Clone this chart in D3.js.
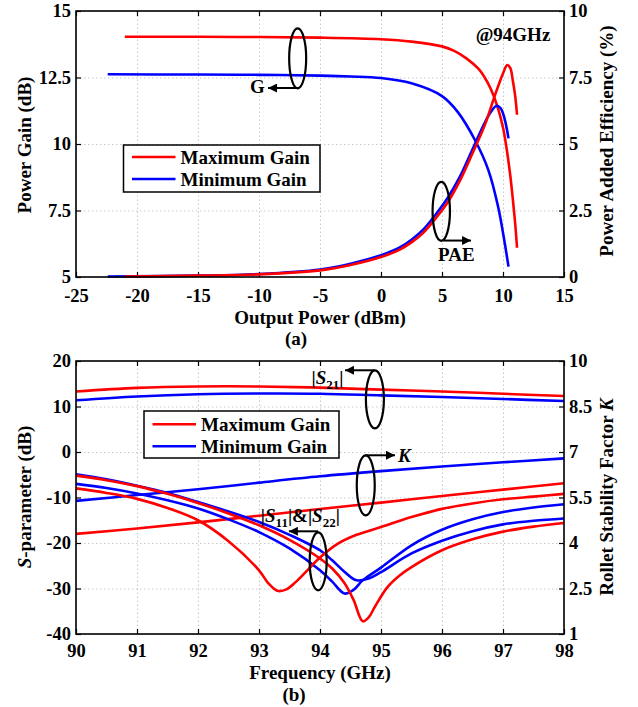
<!DOCTYPE html>
<html><head><meta charset="utf-8">
<script src="https://cdn.jsdelivr.net/npm/d3@7"></script>
<style>
html,body{margin:0;padding:0;background:#fff;}
text{font-family:"Liberation Serif","Times New Roman",serif;font-weight:bold;fill:#000;}
</style></head>
<body><svg id="c" width="638" height="707"></svg>
<script>
// ---------- Panel (a) data ----------
const xTicksA = [-25,-20,-15,-10,-5,0,5,10,15];
const yTicksA = [5,7.5,10,12.5,15];
const yTicksAR = [0,2.5,5,7.5,10];
const gainMaxP = [-21,-15,-10,-5,0,2.5,5,6,7,8,8.5,9,9.5,10,10.3,10.6,10.8,11,11.15];
const gainMaxV = [14.03,14.03,14.02,14.0,13.94,13.85,13.67,13.5,13.22,12.82,12.5,12.07,11.47,10.62,9.82,8.8,7.95,7.0,6.1];
const gainMinP = [-22.4,-15,-10,-5,-2.5,0,2.5,5,6.3,7.7,8.8,9.6,10.1,10.45];
const gainMinV = [12.62,12.61,12.6,12.57,12.54,12.48,12.28,11.8,11.2,10.15,9.02,7.64,6.39,5.39];
const paeMaxP = [-21,-15,-10,-5,-2.5,0,1.5,2.5,3.5,4.5,5.5,6.5,7.5,8.5,9.3,10,10.35,10.6,10.8,11,11.15];
const paeMaxV = [0.02,0.05,0.1,0.25,0.45,0.75,1.02,1.3,1.68,2.22,2.83,3.65,4.65,5.7,6.78,7.65,7.97,7.85,7.4,6.8,6.1];
const paeMinP = [-22.4,-15,-10,-5,-2.5,0,1.5,2.5,3.5,4.5,5.5,6.5,7.5,8.5,9,9.45,9.8,10.1,10.3,10.45];
const paeMinV = [0.02,0.05,0.11,0.28,0.5,0.82,1.1,1.4,1.8,2.36,3.0,3.8,4.8,5.8,6.2,6.43,6.35,6.0,5.6,5.21];

// ---------- Panel (b) data ----------
const xTicksB = [90,91,92,93,94,95,96,97,98];
const yTicksB = [-40,-30,-20,-10,0,10,20];
const yTicksBR = [1,2.5,4,5.5,7,8.5,10];
const s21F = [90,91,92,93,94,95,96,97,98];
const s21MaxV = [13.3,14.1,14.4,14.4,14.15,13.7,13.3,12.8,12.3];
const s21MinV = [11.36,12.2,12.7,12.85,12.8,12.45,12.1,11.65,11.2];
const kF = [90,91,92,93,94,95,96,97,98];
const kMaxV = [4.30,4.48,4.68,4.9,5.12,5.33,5.55,5.76,5.97];
const kMinV = [5.39,5.58,5.77,5.99,6.2,6.37,6.52,6.66,6.79];
const sAMaxF = [90,90.5,91,91.5,92,92.5,93,93.15,93.3,93.45,93.6,93.8,94,94.3,94.6,95,95.5,96,96.5,97,97.5,98];
const sAMaxV = [-8.0,-9.0,-10.3,-12.3,-15.0,-19.6,-26.0,-28.8,-30.5,-30.2,-28.6,-25.9,-23.2,-20.1,-18.2,-16.5,-14.3,-12.5,-11.3,-10.4,-9.8,-9.2];
const sBMaxF = [90,90.5,91,91.5,92,92.5,93,93.5,94,94.2,94.4,94.55,94.7,94.8,94.9,95.1,95.3,95.5,96,96.5,97,97.5,98];
const sBMaxV = [-5.2,-6.2,-7.5,-9.2,-11.2,-13.5,-16.1,-19.3,-23.4,-25.6,-28.8,-32.5,-37.2,-36.3,-34.0,-29.8,-27.2,-25.3,-21.6,-19.2,-17.5,-16.4,-15.6];
const sAMinF = [90,90.5,91,91.5,92,92.5,93,93.5,94,94.2,94.4,94.6,94.8,95,95.5,96,96.5,97,97.5,98];
const sAMinV = [-4.9,-6.0,-7.4,-9.0,-11.0,-13.1,-15.4,-18.2,-21.6,-23.8,-26.3,-28.2,-27.8,-26.4,-22.3,-19.5,-17.4,-15.9,-15.1,-14.6];
const sBMinF = [90,90.5,91,91.5,92,92.5,93,93.5,94,94.2,94.4,94.55,94.7,95,95.5,96,96.5,97,97.5,98];
const sBMinV = [-7.0,-7.9,-9.1,-10.6,-12.4,-14.8,-17.6,-21.2,-26.0,-28.5,-31.1,-30.3,-28.2,-25.4,-20.5,-17.1,-14.8,-13.2,-12.2,-11.5];

const legendLabels = ["Maximum Gain","Minimum Gain"];
const RED = "#ff0000", BLUE = "#0000ff";

const svg = d3.select("#c");
const defs = svg.append("defs");
defs.append("marker").attr("id","arr").attr("viewBox","0 0 10 10")
  .attr("refX",10).attr("refY",5).attr("markerWidth",10).attr("markerHeight",9)
  .attr("markerUnits","userSpaceOnUse").attr("orient","auto")
  .append("path").attr("d","M0,0L10,5L0,10Z").attr("fill","#000");

function zip(a,b){return a.map((v,i)=>[v,b[i]]);}

function panel(cfg){
  const g = svg.append("g");
  const {x,yL,yR} = cfg;
  const [x0,x1] = x.range(), [y0,y1] = yL.range();
  g.append("g").attr("transform",`translate(0,${y0})`)
    .call(d3.axisBottom(x).tickValues(cfg.xt).tickSize(-(y0-y1)).tickFormat(""))
    .call(s=>{s.select(".domain").remove();s.selectAll("line").attr("stroke","#c8c8c8").attr("stroke-dasharray","1.5,2.5");});
  g.append("g").attr("transform",`translate(${x0},0)`)
    .call(d3.axisLeft(yL).tickValues(cfg.yt).tickSize(-(x1-x0)).tickFormat(""))
    .call(s=>{s.select(".domain").remove();s.selectAll("line").attr("stroke","#c8c8c8").attr("stroke-dasharray","1.5,2.5");});
  const fmt = d=>String(d);
  const style = s=>{s.select(".domain").remove();s.selectAll("line").attr("stroke","#000").attr("stroke-width",1.2);
    s.selectAll("text").style("font-size","18.5px").style("font-family",'"Liberation Serif","Times New Roman",serif').style("font-weight","bold").attr("fill","#000");};
  g.append("g").attr("transform",`translate(0,${y0})`)
    .call(d3.axisBottom(x).tickValues(cfg.xt).tickSizeInner(-5).tickSizeOuter(0).tickPadding(cfg.xpad).tickFormat(fmt)).call(style);
  g.append("g").attr("transform",`translate(0,${y1})`)
    .call(d3.axisTop(x).tickValues(cfg.xt).tickSizeInner(-5).tickSizeOuter(0).tickFormat("")).call(style);
  g.append("g").attr("transform",`translate(${x0},0)`)
    .call(d3.axisLeft(yL).tickValues(cfg.yt).tickSizeInner(-5).tickSizeOuter(0).tickPadding(5).tickFormat(fmt)).call(style);
  g.append("g").attr("transform",`translate(${x1},0)`)
    .call(d3.axisRight(yR).tickValues(cfg.ytr).tickSizeInner(-5).tickSizeOuter(0).tickPadding(5).tickFormat(fmt)).call(style);
  return g;
}

function drawLine(g,x,y,xs,ys,color){
  g.append("path").datum(zip(xs,ys)).attr("fill","none").attr("stroke",color).attr("stroke-width",2.6)
    .attr("stroke-linejoin","round").attr("stroke-linecap","butt")
    .attr("d",d3.line().x(d=>x(d[0])).y(d=>y(d[1])).curve(d3.curveCatmullRom.alpha(0.5)));
}
function frame(g,x,y){
  const [x0,x1]=x.range(),[y0,y1]=y.range();
  g.append("rect").attr("x",x0).attr("y",y1).attr("width",x1-x0).attr("height",y0-y1)
    .attr("fill","none").attr("stroke","#000").attr("stroke-width",1.6);
}
function legend(g,bx,by,bw,bh,ly1,ly2){
  g.append("rect").attr("x",bx).attr("y",by).attr("width",bw).attr("height",bh).attr("fill","#fff").attr("stroke","#000").attr("stroke-width",1.5);
  [[ly1,RED,legendLabels[0]],[ly2,BLUE,legendLabels[1]]].forEach(([yy,c,t])=>{
    g.append("line").attr("x1",bx+8.5).attr("x2",bx+52).attr("y1",yy).attr("y2",yy).attr("stroke",c).attr("stroke-width",2.6);
    g.append("text").attr("x",bx+57).attr("y",yy+6.5).style("font-size","19px").text(t);
  });
}
function ellipse(g,cx,cy,rx,ry){
  g.append("ellipse").attr("cx",cx).attr("cy",cy).attr("rx",rx).attr("ry",ry).attr("fill","none").attr("stroke","#000").attr("stroke-width",2.2);
}
function arrow(g,xa,ya,xb,yb){
  g.append("line").attr("x1",xa).attr("y1",ya).attr("x2",xb).attr("y2",yb).attr("stroke","#000").attr("stroke-width",2).attr("marker-end","url(#arr)");
}

// ---------- Panel (a) ----------
const xA = d3.scaleLinear([-25,15],[76,564]);
const yA = d3.scaleLinear([5,15],[277,11]);
const yAR = d3.scaleLinear([0,10],[277,11]);
const gA = panel({x:xA,yL:yA,yR:yAR,xt:xTicksA,yt:yTicksA,ytr:yTicksAR,xpad:12});
drawLine(gA,xA,yA,gainMaxP,gainMaxV,RED);
drawLine(gA,xA,yA,gainMinP,gainMinV,BLUE);
drawLine(gA,xA,yAR,paeMinP,paeMinV,BLUE);
drawLine(gA,xA,yAR,paeMaxP,paeMaxV,RED);
frame(gA,xA,yA);
legend(gA,123.5,145,196.5,47,157,179);
gA.append("text").attr("x",xA(10.82)).attr("y",yA(13.87)).attr("text-anchor","middle").style("font-size","19px").text("@94GHz");
ellipse(gA,xA(-6.83),yA(13.22),8.5,30);
arrow(gA,xA(-6.78),yA(12.105),xA(-9.26),yA(12.105));
gA.append("text").attr("x",xA(-10.74)).attr("y",yA(11.92)).style("font-size","19px").text("G");
ellipse(gA,xA(4.94),yA(7.47),8.7,29.5);
arrow(gA,xA(5.1),yA(6.37),xA(7.38),yA(6.37));
gA.append("text").attr("x",xA(4.67)).attr("y",yA(5.6)).style("font-size","19px").text("PAE");
gA.append("text").attr("x",320).attr("y",324).attr("text-anchor","middle").style("font-size","19px").text("Output Power (dBm)");
gA.append("text").attr("x",296).attr("y",345).attr("text-anchor","middle").style("font-size","19px").text("(a)");
gA.append("text").attr("transform","translate(31,145) rotate(-90)").attr("text-anchor","middle").style("font-size","19px").text("Power Gain (dB)");
gA.append("text").attr("transform","translate(613,141) rotate(-90)").attr("text-anchor","middle").style("font-size","19px").text("Power Added Efficiency (%)");

// ---------- Panel (b) ----------
const xB = d3.scaleLinear([90,98],[76,564]);
const yB = d3.scaleLinear([-40,20],[634,361]);
const yBR = d3.scaleLinear([1,10],[634,361]);
const gB = panel({x:xB,yL:yB,yR:yBR,xt:xTicksB,yt:yTicksB,ytr:yTicksBR,xpad:10});
drawLine(gB,xB,yB,s21F,s21MaxV,RED);
drawLine(gB,xB,yB,s21F,s21MinV,BLUE);
drawLine(gB,xB,yBR,kF,kMinV,BLUE);
drawLine(gB,xB,yBR,kF,kMaxV,RED);
drawLine(gB,xB,yB,sAMinF,sAMinV,BLUE);
drawLine(gB,xB,yB,sBMinF,sBMinV,BLUE);
drawLine(gB,xB,yB,sAMaxF,sAMaxV,RED);
drawLine(gB,xB,yB,sBMaxF,sBMaxV,RED);
frame(gB,xB,yB);
legend(gB,144,411,195,47,424.3,446.3);

function sLabel(g,x,y,parts){
  const t = g.append("text").attr("x",x).attr("y",y).style("font-size","19px");
  parts.forEach(p=>{
    const s = t.append("tspan").text(p.t);
    if(p.i) s.style("font-style","italic");
    if(p.sub) s.attr("dy",5).style("font-size","13px");
    if(p.up) s.attr("dy",-5);
  });
  return t;
}
sLabel(gB,xB(93.86),yB(14.99),[{t:"|"},{t:"S",i:1},{t:"21",sub:1},{t:"|",up:1}]);
ellipse(gB,xB(94.90),yB(11.58),9,29);
arrow(gB,xB(94.90),yB(17.96),xB(94.41),yB(17.96));
ellipse(gB,xB(94.75),yB(-7.32),9,30);
arrow(gB,xB(94.74),yB(-0.72),xB(95.23),yB(-0.72));
gB.append("text").attr("x",xB(95.28)).attr("y",yB(-2.26)).style("font-size","19px").style("font-style","italic").text("K");
sLabel(gB,xB(93.03),yB(-15.45),[{t:"|"},{t:"S",i:1},{t:"11",sub:1},{t:"|&|",up:1},{t:"S",i:1},{t:"22",sub:1},{t:"|",up:1}]);
ellipse(gB,xB(93.97),yB(-24.02),8.5,29);
arrow(gB,xB(93.97),yB(-17.43),xB(93.49),yB(-17.43));
gB.append("text").attr("x",320).attr("y",679).attr("text-anchor","middle").style("font-size","19px").text("Frequency (GHz)");
gB.append("text").attr("x",294).attr("y",701).attr("text-anchor","middle").style("font-size","19px").text("(b)");
const yl = gB.append("text").attr("transform","translate(31,497) rotate(-90)").attr("text-anchor","middle").style("font-size","19px");
yl.append("tspan").style("font-style","italic").text("S");
yl.append("tspan").text("-parameter (dB)");
const yr = gB.append("text").attr("transform","translate(613,497) rotate(-90)").attr("text-anchor","middle").style("font-size","19px");
yr.append("tspan").text("Rollet Stability Factor ");
yr.append("tspan").style("font-style","italic").text("K");
</script></body></html>
